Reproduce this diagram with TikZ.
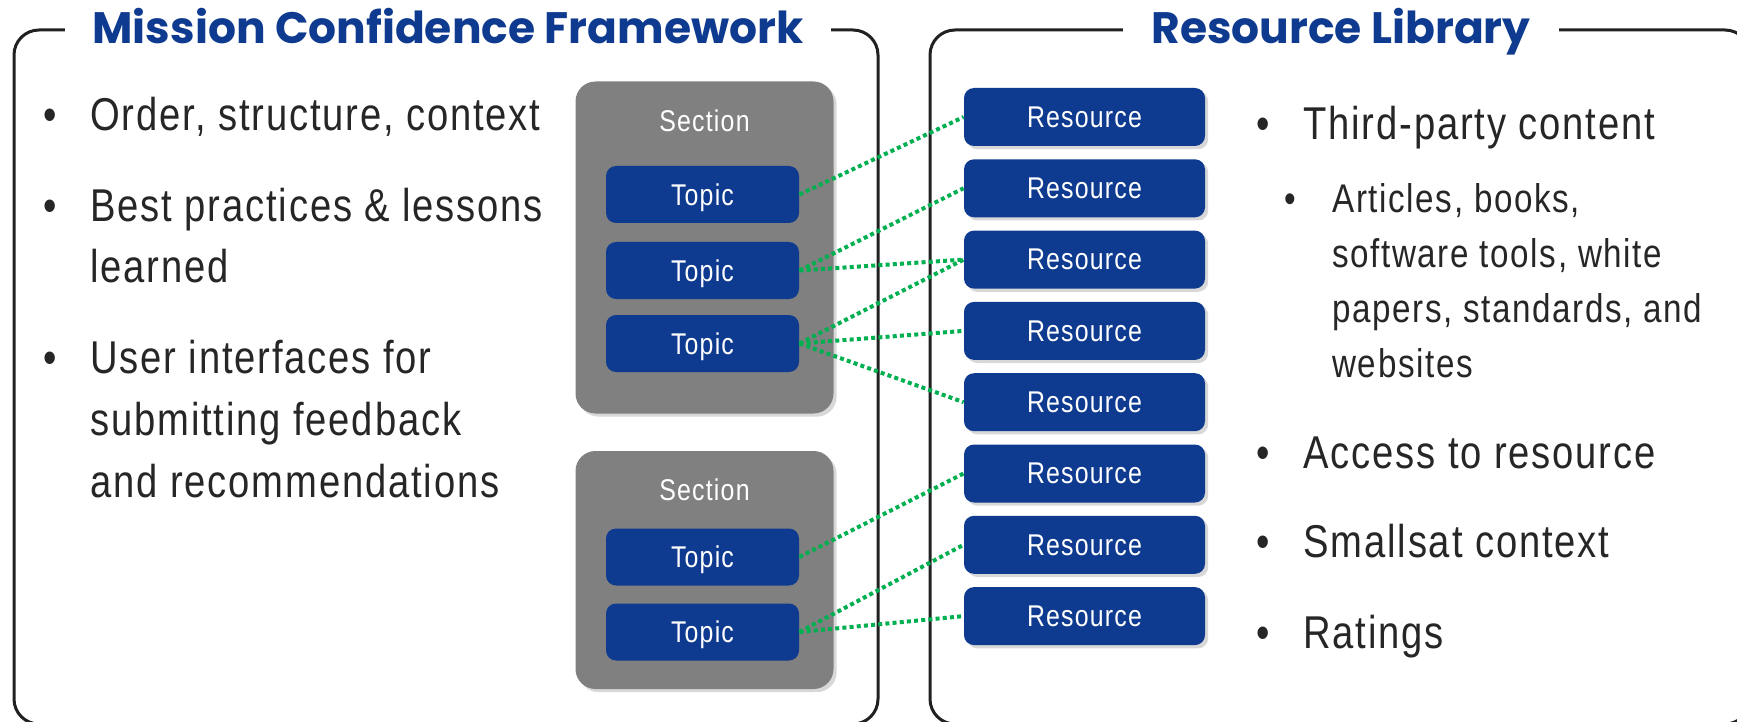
\documentclass[tikz,border=0pt]{standalone}
\usepackage{fontspec}
\setmainfont{Liberation Sans}[FakeStretch=0.83,LetterSpace=4]
\newfontfamily\titlefont{Poppins}
\usetikzlibrary{shadows}

\definecolor{mcfblue}{RGB}{14,59,143}
\definecolor{secgray}{RGB}{128,128,128}
\definecolor{textgray}{RGB}{38,38,38}
\definecolor{framegray}{RGB}{33,33,33}
\definecolor{linkgreen}{RGB}{0,176,80}

% bullets in front of the list texts
\newcommand{\bul}{\llap{\textbullet\hspace{17pt}}}
\newcommand{\subbul}{\llap{\textbullet\hspace{18pt}}}

\begin{document}
\begin{tikzpicture}[x=0.5pt,y=-0.5pt,
  frame/.style={draw=framegray,line width=1.5pt,rounded corners=12.5pt},
  heading/.style={fill=white,inner xsep=14pt,inner ysep=0pt,anchor=base,text=mcfblue,
    font=\titlefont\bfseries\fontsize{22}{24}\selectfont},
  boxshadow/.style={drop shadow={shadow xshift=1.6pt,shadow yshift=-1.6pt,opacity=.3}},
  sectionbox/.style={fill=secgray,rounded corners=10pt,minimum width=129pt,boxshadow},
  seclabel/.style={text=white,anchor=base,inner sep=0pt,font=\fontsize{15}{18}\selectfont},
  topic/.style={fill=mcfblue,text=white,rounded corners=5pt,inner sep=0pt,text depth=0pt,
    minimum width=96.5pt,minimum height=28.5pt,font=\fontsize{15}{18}\selectfont,boxshadow},
  resource/.style={topic,minimum width=120.5pt,minimum height=29pt},
  link/.style={draw=linkgreen,line width=2pt,dash pattern=on 2pt off 1.6pt},
  bigtext/.style={text=textgray,anchor=base west,align=left,inner sep=0pt,
    font=\fontsize{23}{31}\selectfont},
  smalltext/.style={bigtext,font=\fontsize{20}{27.5}\selectfont}]
\path[use as bounding box,fill=white] (0,0) rectangle (1737,722);
\clip (0,0) rectangle (1737,722);

% The two frames and their headings
\draw[frame] (14,30) rectangle (878,724);
\draw[frame] (930,30) rectangle (1750,724);
\node[heading] (mcf) at (448,44) {Mission Confidence Framework};
\node[heading] (rl) at (1341,44) {Resource Library};

% Sections with their topics
\node[sectionbox,minimum height=166pt] (sec1) at (704.5,247.5) {};
\node[sectionbox,minimum height=119pt] (sec2) at (704.5,570) {};
\node[seclabel] (sec1lbl) at (704.5,132) {Section};
\node[seclabel] (sec2lbl) at (704.5,500) {Section};
\node[topic] (t1) at (702.5,194.5) {Topic};
\node[topic] (t2) at (702.5,270.5) {Topic};
\node[topic] (t3) at (702.5,343.5) {Topic};
\node[topic] (t4) at (702.5,557) {Topic};
\node[topic] (t5) at (702.5,632) {Topic};

% Resources
\node[resource] (r1) at (1084.5,117) {Resource};
\node[resource] (r2) at (1084.5,188.3) {Resource};
\node[resource] (r3) at (1084.5,259.6) {Resource};
\node[resource] (r4) at (1084.5,330.9) {Resource};
\node[resource] (r5) at (1084.5,402.2) {Resource};
\node[resource] (r6) at (1084.5,473.5) {Resource};
\node[resource] (r7) at (1084.5,544.8) {Resource};
\node[resource] (r8) at (1084.5,616.1) {Resource};

% Links from topics to resources
\draw[link] (t1.east) -- (r1.west);
\draw[link] (t2.east) -- (r2.west);
\draw[link] (t2.east) -- (r3.west);
\draw[link] (t3.east) -- (r3.west);
\draw[link] (t3.east) -- (r4.west);
\draw[link] (t3.east) -- (r5.west);
\draw[link] (t4.east) -- (r6.west);
\draw[link] (t5.east) -- (r7.west);
\draw[link] (t5.east) -- (r8.west);

% Lists (multi-line nodes sit on their last baseline)
\node[bigtext] (o1) at (90,131) {\bul Order, structure, context};
\node[bigtext] (o2) at (90,283) {\bul Best practices \& lessons\\learned};
\node[bigtext] (o3) at (90,497) {\bul User interfaces for\\submitting feedback\\and recommendations};
\node[bigtext] (p1) at (1303,140) {\bul Third-party content};
\node[smalltext] (p2) at (1332,377) {\subbul Articles, books,\\software tools, white\\papers, standards, and\\websites};
\node[bigtext] (p3) at (1303,468) {\bul Access to resource};
\node[bigtext] (p4) at (1303,557) {\bul Smallsat context};
\node[bigtext] (p5) at (1303,648) {\bul Ratings};
\end{tikzpicture}
\end{document}
